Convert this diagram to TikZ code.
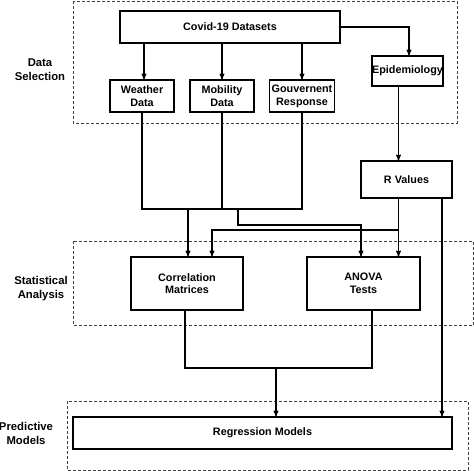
\documentclass[tikz,border=0pt]{standalone}
\usepackage{fontspec}
\setmainfont{Liberation Sans}
\usepackage{tikz}
\usetikzlibrary{arrows,positioning,calc}

\newcommand{\boxfont}{\bfseries\fontsize{10.8}{12.7}\selectfont}
\newcommand{\phasefont}{\bfseries\fontsize{11.3}{14}\selectfont}

\begin{document}
\begin{tikzpicture}[x=1pt,y=-1pt,>=stealth',line width=1.1pt,node distance=80pt]
\tikzstyle{block}=[draw=black,fill=white,align=center,inner sep=0pt,font=\boxfont]
\tikzstyle{group}=[draw=black!75,semithick,dash pattern=on 3pt off 2pt]
\tikzstyle{phase}=[align=center,font=\phasefont]
\useasboundingbox (0,0) rectangle (474,471);

% dashed phases
\draw[group] (73,1) rectangle (457,123);
\draw[group] (73,241) rectangle (473.5,325);
\draw[group] (67,401) rectangle (468,470);
\node[phase] (sel) at (40,70) {Data\\Selection};
\node[phase] (stat) at (41,289) {Statistical\\Analysis};
\node[phase] (pred) at (26,433) {Predictive\\Models};

% boxes
\node[block,minimum width=220pt,minimum height=32pt] (covid) at (230,27) {Covid-19 Datasets};
\node[block,minimum width=64pt,minimum height=32pt] (weather) at (142,96) {Weather\\Data};
\node[block,minimum width=64pt,minimum height=32pt][right of=weather] (mobility) {Mobility\\Data};
\node[block,minimum width=65pt,minimum height=32pt][right of=mobility] (gouv) {Gouvernent\\Response};
\node[block,minimum width=71pt,minimum height=30pt] (epi) at (407.5,71) {Epidemiology};
\node[block,minimum width=91pt,minimum height=37pt] (rval) at (406.5,179.5) {R Values};
\node[block,minimum width=112pt,minimum height=53pt] (corr) at (187,283.5) {Correlation\\Matrices};
\node[block,minimum width=113pt,minimum height=53pt][right of=corr,node distance=176.5pt] (anova) {ANOVA\\Tests};
\node[block,minimum width=379pt,minimum height=32pt] (regr) at (262.5,433) {Regression Models};

\coordinate (dataJoin) at (188,209);
\coordinate (dataTap) at (238,209);
\coordinate (rJoin) at (398.5,230);
\coordinate (statJoin) at (276,368);

% connectors
\draw[->] (covid.east) -| ([xshift=1.5pt]epi.north);
\draw[->] ([xshift=2pt]covid.south -| weather.north) -- ([xshift=2pt]weather.north);
\draw[->] (covid.south -| mobility.north) -- (mobility.north);
\draw[->] (covid.south -| gouv.north) -- (gouv.north);
\draw[->] ([xshift=-9pt]epi.south) -- ([xshift=-9pt]epi.south |- rval.north);
\draw (weather.south) |- (gouv.south |- dataJoin) -- (gouv.south);
\draw (mobility.south) -- (mobility.south |- dataJoin);
\draw[->] (dataJoin) -- (dataJoin |- corr.north);
\draw[->] (dataTap) -- ++(0,16) -| ([xshift=-2.5pt]anova.north);
\draw ([xshift=-8pt]rval.south) -- (rJoin);
\draw[->] (rJoin) -| ([xshift=25pt]corr.north);
\draw[->] (rJoin) -- (rJoin |- anova.north);
\draw[->] ([xshift=35.5pt]rval.south) -- ([xshift=35.5pt]rval.south |- regr.north);
\draw ([xshift=-2pt]corr.south) |- ([xshift=8.5pt]anova.south |- statJoin) -- ([xshift=8.5pt]anova.south);
\draw[->] (statJoin) -- (statJoin |- regr.north);
\end{tikzpicture}
\end{document}
